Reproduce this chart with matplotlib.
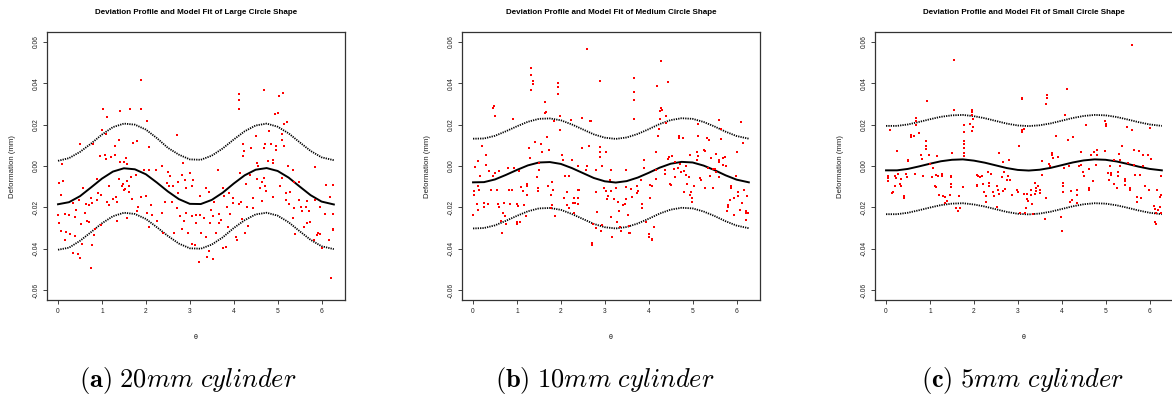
import numpy as np
import matplotlib.pyplot as plt

plt.rcParams['font.family'] = ['Liberation Sans', 'DejaVu Sans']
plt.rcParams['mathtext.fontset'] = 'cm'

titles = ["Deviation Profile and Model Fit of Large Circle Shape",
          "Deviation Profile and Model Fit of Medium Circle Shape",
          "Deviation Profile and Model Fit of Small Circle Shape"]
captions = [r"$\mathbf{(a)}$ $20\mathit{mm\ cylinder}$",
            r"$\mathbf{(b)}$ $10\mathit{mm\ cylinder}$",
            r"$\mathbf{(c)}$ $5\mathit{mm\ cylinder}$"]

# model fit and bands, read at these angles
theta_grid = [0, 0.25, 0.5, 0.75, 1.0, 1.25, 1.5, 1.75, 2.0, 2.25, 2.5, 2.75, 3.0,
              3.25, 3.5, 3.75, 4.0, 4.25, 4.5, 4.75, 5.0, 5.25, 5.5, 5.75, 6.0, 6.28]

fit_large = [-0.0185, -0.0175, -0.0146, -0.0104, -0.0061, -0.0027, -0.0011, -0.0016, -0.0040,
             -0.0080, -0.0123, -0.0160, -0.0183, -0.0184, -0.0164, -0.0129, -0.0085, -0.0045,
             -0.0018, -0.0010, -0.0024, -0.0056, -0.0099, -0.0141, -0.0172, -0.0186]
upper_large = [0.0025, 0.0038, 0.0068, 0.0108, 0.0152, 0.0188, 0.0205, 0.0200, 0.0176, 0.0135,
               0.0088, 0.0055, 0.0032, 0.0030, 0.0050, 0.0085, 0.0128, 0.0168, 0.0196, 0.0205,
               0.0190, 0.0158, 0.0115, 0.0073, 0.0042, 0.0028]
lower_large = [-0.0405, -0.0395, -0.0362, -0.0320, -0.0277, -0.0243, -0.0226, -0.0232, -0.0256,
               -0.0296, -0.0338, -0.0375, -0.0398, -0.0400, -0.0380, -0.0345, -0.0300, -0.0262,
               -0.0234, -0.0226, -0.0240, -0.0272, -0.0315, -0.0357, -0.0388, -0.0402]

fit_medium = [-0.0079, -0.0078, -0.0065, -0.0043, -0.0019, 0.0003, 0.0017, 0.0019, 0.0010,
              -0.0010, -0.0034, -0.0058, -0.0074, -0.0080, -0.0073, -0.0056, -0.0033, -0.0008,
              0.0011, 0.0020, 0.0017, 0.0002, -0.0020, -0.0045, -0.0066, -0.0079]
upper_medium = [0.0132, 0.0133, 0.0146, 0.0168, 0.0192, 0.0214, 0.0228, 0.0230, 0.0221, 0.0201,
                0.0177, 0.0153, 0.0137, 0.0131, 0.0138, 0.0155, 0.0178, 0.0203, 0.0222, 0.0231,
                0.0228, 0.0213, 0.0191, 0.0166, 0.0145, 0.0132]
lower_medium = [-0.0302, -0.0300, -0.0287, -0.0265, -0.0241, -0.0219, -0.0205, -0.0203, -0.0212,
                -0.0232, -0.0256, -0.0280, -0.0296, -0.0302, -0.0295, -0.0278, -0.0255, -0.0230,
                -0.0211, -0.0202, -0.0205, -0.0220, -0.0242, -0.0267, -0.0288, -0.0301]

fit_small = [-0.0021, -0.0021, -0.0014, -0.0002, 0.0011, 0.0023, 0.0030, 0.0032, 0.0026, 0.0016,
             0.0003, -0.0010, -0.0019, -0.0022, -0.0018, -0.0009, 0.0004, 0.0017, 0.0027, 0.0032,
             0.0030, 0.0022, 0.0010, -0.0003, -0.0014, -0.0021]
upper_small = [0.0194, 0.0194, 0.0201, 0.0213, 0.0226, 0.0238, 0.0245, 0.0247, 0.0241, 0.0231,
               0.0218, 0.0205, 0.0196, 0.0193, 0.0197, 0.0206, 0.0219, 0.0232, 0.0242, 0.0247,
               0.0245, 0.0237, 0.0225, 0.0212, 0.0201, 0.0194]
lower_small = [-0.0233, -0.0233, -0.0226, -0.0214, -0.0201, -0.0189, -0.0182, -0.0180, -0.0186,
               -0.0196, -0.0209, -0.0222, -0.0231, -0.0234, -0.0230, -0.0221, -0.0208, -0.0195,
               -0.0185, -0.0180, -0.0182, -0.0190, -0.0202, -0.0215, -0.0226, -0.0233]

# measured deviations (theta, deformation in mm)
points_large = [
    (1.90, 0.0416), (1.03, 0.0278), (1.42, 0.0265), (1.63, 0.0278), (1.88, 0.0278), (1.11, 0.0236),
    (2.03, 0.0220), (1.00, 0.0176), (1.09, 0.0157), (0.51, 0.0108), (0.79, 0.0104), (1.30, 0.0099),
    (1.39, 0.0128), (1.71, 0.0112), (1.80, 0.0123), (2.07, 0.0092), (2.70, 0.0152), (0.08, 0.0011),
    (0.95, 0.0050), (1.06, 0.0055), (1.21, 0.0042), (1.30, 0.0055), (1.09, 0.0036), (1.42, 0.0018),
    (1.51, 0.0021), (1.57, 0.0011), (1.54, 0.0039), (2.36, 0.0002), (2.85, 0.0013), (0.02, -0.0083),
    (0.12, -0.0071), (0.56, -0.0108), (0.88, -0.0063), (1.17, -0.0099), (1.49, -0.0086),
    (1.56, -0.0074), (1.61, -0.0095), (1.53, -0.0112), (1.45, -0.0095), (1.38, -0.0063),
    (1.67, -0.0053), (1.77, -0.0044), (1.96, -0.0018), (2.08, -0.0018), (2.22, -0.0018),
    (2.51, -0.0031), (2.56, -0.0050), (2.47, -0.0083), (2.52, -0.0099), (2.62, -0.0099),
    (2.74, -0.0078), (2.73, -0.0131), (2.83, -0.0042), (2.89, -0.0066), (2.92, -0.0107),
    (3.00, -0.0034), (3.08, -0.0070), (3.05, -0.0099), (0.06, -0.0142), (0.35, -0.0180),
    (0.48, -0.0163), (0.63, -0.0183), (0.71, -0.0191), (0.78, -0.0181), (0.76, -0.0154),
    (0.92, -0.0131), (0.89, -0.0163), (0.98, -0.0142), (1.11, -0.0172), (1.15, -0.0188),
    (1.26, -0.0160), (1.31, -0.0150), (1.35, -0.0176), (1.50, -0.0118), (1.61, -0.0128),
    (1.68, -0.0160), (1.81, -0.0196), (1.89, -0.0150), (2.01, -0.0147), (2.11, -0.0189),
    (2.15, -0.0236), (2.25, -0.0264), (2.36, -0.0228), (2.44, -0.0176), (2.59, -0.0175),
    (2.70, -0.0204), (2.77, -0.0244), (2.87, -0.0264), (2.92, -0.0228), (3.06, -0.0244),
    (0.00, -0.0235), (0.16, -0.0231), (0.41, -0.0215), (0.25, -0.0236), (0.38, -0.0249),
    (0.52, -0.0282), (0.61, -0.0225), (0.65, -0.0264), (0.70, -0.0273), (0.85, -0.0306),
    (0.97, -0.0283), (1.35, -0.0264), (1.57, -0.0252), (1.80, -0.0220), (2.02, -0.0225),
    (0.06, -0.0312), (0.18, -0.0319), (0.16, -0.0358), (0.27, -0.0330), (0.39, -0.0337),
    (0.54, -0.0377), (0.78, -0.0382), (0.81, -0.0333), (0.33, -0.0422), (0.45, -0.0427),
    (0.49, -0.0445), (2.08, -0.0293), (2.39, -0.0322), (2.65, -0.0322), (2.83, -0.0306),
    (2.96, -0.0322), (3.05, -0.0379), (0.02, -0.0275), (0.76, -0.0492),
    (4.13, 0.0348), (4.13, 0.0319), (4.13, 0.0278), (4.69, 0.0366), (5.04, 0.0338), (5.12, 0.0351),
    (4.95, 0.0251), (5.01, 0.0254), (4.80, 0.0167), (5.11, 0.0157), (5.14, 0.0201), (5.21, 0.0212),
    (5.11, 0.0128), (5.15, 0.0095), (4.21, 0.0104), (4.23, 0.0074), (4.22, 0.0050), (4.40, 0.0089),
    (4.70, 0.0087), (4.84, 0.0108), (4.97, 0.0099), (4.97, 0.0076), (4.50, 0.0147), (4.72, 0.0108),
    (3.65, -0.0018), (4.52, 0.0015), (4.56, -0.0002), (4.79, 0.0023), (4.90, 0.0028),
    (4.89, 0.0015), (5.24, 0.0002), (5.35, -0.0018), (5.86, -0.0005), (4.15, -0.0034),
    (4.38, -0.0042), (4.29, -0.0086), (4.53, -0.0061), (4.64, -0.0079), (4.59, -0.0107),
    (4.74, -0.0123), (4.72, -0.0099), (4.69, -0.0058), (5.06, -0.0095), (5.11, -0.0060),
    (5.38, -0.0078), (5.48, -0.0076), (6.11, -0.0091), (6.27, -0.0091), (3.36, -0.0108),
    (3.23, -0.0147), (3.43, -0.0125), (3.54, -0.0172), (3.48, -0.0215), (3.76, -0.0107),
    (3.77, -0.0147), (3.90, -0.0131), (3.99, -0.0155), (3.98, -0.0180), (3.85, -0.0196),
    (4.11, -0.0183), (4.17, -0.0176), (4.30, -0.0196), (4.43, -0.0201), (4.45, -0.0157),
    (4.64, -0.0167), (4.89, -0.0150), (5.19, -0.0131), (5.28, -0.0128), (5.19, -0.0163),
    (5.27, -0.0183), (5.38, -0.0204), (5.48, -0.0163), (5.53, -0.0196), (5.64, -0.0196),
    (5.68, -0.0167), (5.86, -0.0163), (5.97, -0.0196), (6.08, -0.0233), (6.20, -0.0150),
    (6.27, -0.0231), (3.24, -0.0236), (3.32, -0.0252), (3.47, -0.0277), (3.52, -0.0244),
    (3.67, -0.0231), (3.67, -0.0277), (3.71, -0.0261), (3.92, -0.0231), (3.86, -0.0296),
    (3.14, -0.0236), (3.14, -0.0277), (3.26, -0.0325), (3.38, -0.0341), (3.12, -0.0382),
    (3.43, -0.0409), (3.39, -0.0439), (3.52, -0.0450), (3.60, -0.0325), (3.76, -0.0398),
    (3.83, -0.0390), (4.06, -0.0341), (4.08, -0.0358), (4.26, -0.0322), (4.32, -0.0288),
    (4.20, -0.0257), (5.40, -0.0330), (5.74, -0.0269), (5.91, -0.0325), (5.96, -0.0330),
    (5.82, -0.0358), (6.01, -0.0398), (6.17, -0.0358), (6.25, -0.0306), (6.27, -0.0310),
    (5.67, -0.0277), (5.56, -0.0220), (5.60, -0.0293), (5.35, -0.0252), (5.90, -0.0333),
    (5.71, -0.0220), (6.21, -0.0544), (3.20, -0.0463),
]

points_medium = [
    (2.59, 0.0565), (1.32, 0.0472), (1.32, 0.0439), (1.36, 0.0411), (1.37, 0.0398), (1.32, 0.0366),
    (1.93, 0.0400), (1.93, 0.0383), (1.93, 0.0348), (2.90, 0.0409), (0.48, 0.0288), (0.45, 0.0282),
    (0.50, 0.0244), (1.64, 0.0309), (1.66, 0.0261), (1.63, 0.0254), (1.97, 0.0241), (0.91, 0.0225),
    (2.23, 0.0222), (2.48, 0.0230), (2.66, 0.0217), (2.69, 0.0217), (1.99, 0.0176), (1.85, 0.0220),
    (0.21, 0.0099), (0.30, 0.0055), (0.11, 0.0023), (0.05, -0.0003), (0.30, 0.0005), (0.59, -0.0024),
    (0.51, -0.0034), (0.80, -0.0008), (0.94, -0.0008), (1.04, -0.0026), (1.41, 0.0115),
    (1.54, 0.0104), (1.28, 0.0086), (1.72, 0.0076), (1.56, 0.0066), (1.30, 0.0037), (1.51, 0.0013),
    (1.51, -0.0018), (1.46, -0.0053), (1.24, -0.0099), (1.23, -0.0139), (1.68, 0.0138),
    (2.03, 0.0055), (2.04, 0.0028), (2.25, 0.0031), (2.40, -0.0002), (2.47, 0.0086), (2.63, 0.0095),
    (2.90, 0.0091), (2.89, 0.0070), (2.89, 0.0044), (2.93, 0.0002), (2.81, -0.0018),
    (2.59, -0.0002), (2.57, -0.0018), (3.02, 0.0066), (0.03, -0.0123), (0.03, -0.0139),
    (0.14, -0.0118), (0.16, -0.0050), (0.11, -0.0099), (0.36, -0.0026), (0.42, -0.0115),
    (0.54, -0.0115), (0.45, -0.0050), (0.82, -0.0118), (0.88, -0.0118), (1.10, -0.0102),
    (1.13, -0.0123), (1.22, -0.0087), (1.47, -0.0104), (1.49, -0.0123), (1.70, -0.0099),
    (1.79, -0.0076), (1.77, -0.0139), (1.82, -0.0115), (2.09, -0.0050), (2.18, -0.0047),
    (2.15, -0.0128), (2.08, -0.0155), (2.31, -0.0155), (2.39, -0.0155), (2.38, -0.0115),
    (2.42, -0.0115), (2.32, -0.0180), (2.81, -0.0128), (2.98, -0.0107), (3.02, -0.0123),
    (3.08, -0.0144), (3.05, -0.0160), (0.08, -0.0183), (0.12, -0.0212), (0.25, -0.0180),
    (0.25, -0.0196), (0.34, -0.0184), (0.00, -0.0239), (0.57, -0.0183), (0.59, -0.0199),
    (0.68, -0.0225), (0.70, -0.0180), (0.84, -0.0183), (0.99, -0.0183), (1.03, -0.0193),
    (1.16, -0.0191), (1.21, -0.0244), (0.99, -0.0273), (1.07, -0.0269), (0.99, -0.0280),
    (0.73, -0.0244), (0.64, -0.0265), (0.74, -0.0282), (0.67, -0.0322), (1.77, -0.0204),
    (1.80, -0.0191), (1.87, -0.0244), (2.14, -0.0188), (2.18, -0.0204), (2.28, -0.0180),
    (2.29, -0.0225), (2.38, -0.0184), (2.71, -0.0374), (2.71, -0.0382), (2.74, -0.0280),
    (2.83, -0.0223), (2.80, -0.0301), (2.93, -0.0285), (2.92, -0.0314), (3.16, -0.0342),
    (4.29, 0.0508), (3.67, 0.0424), (3.67, 0.0358), (3.67, 0.0319), (3.67, 0.0225), (4.20, 0.0387),
    (4.43, 0.0406), (4.27, 0.0282), (4.26, 0.0265), (4.31, 0.0273), (4.40, 0.0244), (4.40, 0.0206),
    (4.23, 0.0180), (4.22, 0.0144), (4.26, 0.0225), (5.61, 0.0222), (6.11, 0.0212), (5.65, 0.0180),
    (5.13, 0.0204), (5.13, 0.0147), (4.70, 0.0147), (4.77, 0.0134), (4.69, 0.0134), (5.33, 0.0136),
    (5.37, 0.0125), (5.65, 0.0131), (6.15, 0.0112), (6.01, 0.0066), (4.17, 0.0066), (3.90, 0.0031),
    (3.90, -0.0010), (3.49, -0.0018), (3.15, -0.0021), (4.45, 0.0036), (4.47, 0.0044),
    (4.54, 0.0050), (4.61, 0.0021), (4.72, 0.0008), (4.93, 0.0055), (5.10, 0.0066), (5.13, 0.0047),
    (5.11, 0.0028), (5.25, 0.0079), (5.29, 0.0071), (5.42, 0.0039), (5.54, 0.0060), (5.59, 0.0028),
    (5.61, 0.0021), (5.69, 0.0039), (5.74, 0.0044), (5.70, 0.0003), (5.77, -0.0002),
    (5.46, -0.0013), (5.50, -0.0013), (5.35, -0.0008), (4.84, 0.0002), (4.74, -0.0031),
    (4.66, -0.0010), (4.57, -0.0015), (4.36, -0.0018), (4.17, -0.0018), (4.16, -0.0063),
    (4.08, -0.0095), (4.36, -0.0037), (4.59, -0.0055), (4.81, -0.0023), (4.84, -0.0042),
    (4.87, -0.0086), (4.91, -0.0053), (4.49, -0.0086), (4.50, -0.0091), (5.03, -0.0099),
    (4.97, -0.0128), (4.99, -0.0154), (4.99, -0.0173), (4.94, -0.0141), (4.81, -0.0128),
    (5.17, -0.0058), (5.18, -0.0066), (5.29, -0.0105), (5.40, -0.0047), (5.47, -0.0105),
    (5.53, -0.0031), (5.61, -0.0053), (5.88, -0.0099), (5.88, -0.0105), (5.99, -0.0047),
    (6.04, -0.0126), (6.03, -0.0147), (5.95, -0.0154), (6.24, -0.0144), (6.18, -0.0115),
    (6.12, -0.0178), (5.80, -0.0188), (5.80, -0.0196), (5.84, -0.0163), (5.79, -0.0220),
    (5.95, -0.0236), (6.09, -0.0215), (6.21, -0.0220), (6.21, -0.0261), (6.21, -0.0225),
    (6.27, -0.0228), (3.11, -0.0066), (3.25, -0.0104), (3.15, -0.0123), (3.49, -0.0102),
    (3.60, -0.0112), (3.74, -0.0095), (3.83, -0.0070), (3.75, -0.0123), (3.73, -0.0131),
    (4.04, -0.0094), (3.21, -0.0160), (3.30, -0.0176), (3.42, -0.0191), (3.48, -0.0159),
    (3.63, -0.0150), (3.33, -0.0220), (3.47, -0.0184), (3.85, -0.0183), (3.85, -0.0204),
    (4.04, -0.0155), (3.15, -0.0249), (3.53, -0.0239), (3.35, -0.0296), (3.38, -0.0312),
    (3.55, -0.0288), (3.56, -0.0322), (3.94, -0.0269), (4.11, -0.0293), (4.00, -0.0328),
    (4.00, -0.0341), (4.08, -0.0353), (4.08, -0.0358), (3.27, -0.0269), (3.57, -0.0322),
]

points_small = [
    (1.54, 0.0513), (0.94, 0.0314), (1.55, 0.0270), (1.96, 0.0273), (1.96, 0.0261), (1.96, 0.0248),
    (1.98, 0.0228), (0.68, 0.0231), (0.68, 0.0217), (0.68, 0.0199), (0.08, 0.0176), (0.76, 0.0160),
    (0.56, 0.0152), (0.56, 0.0141), (0.63, 0.0144), (1.78, 0.0196), (1.78, 0.0163), (1.91, 0.0201),
    (1.98, 0.0189), (1.96, 0.0168), (1.78, 0.0120), (1.78, 0.0104), (1.78, 0.0087), (1.78, 0.0063),
    (1.78, 0.0050), (0.90, 0.0120), (0.90, 0.0095), (0.90, 0.0083), (0.25, 0.0071), (0.79, 0.0055),
    (0.81, 0.0034), (0.98, 0.0055), (1.15, 0.0047), (0.51, 0.0031), (0.51, 0.0023), (1.51, 0.0063),
    (1.00, 0.0011), (1.08, -0.0010), (0.65, -0.0037), (0.05, -0.0047), (0.05, -0.0060),
    (0.05, -0.0074), (0.20, -0.0050), (0.22, -0.0058), (0.28, -0.0037), (0.34, -0.0063),
    (0.31, -0.0086), (0.35, -0.0099), (0.21, -0.0099), (0.46, -0.0037), (0.47, -0.0053),
    (0.84, -0.0050), (1.05, -0.0053), (1.14, -0.0042), (1.19, -0.0047), (1.27, -0.0037),
    (1.27, -0.0050), (1.48, -0.0047), (1.48, -0.0053), (1.48, -0.0086), (1.48, -0.0102),
    (1.11, -0.0099), (1.14, -0.0102), (1.75, -0.0102), (1.21, -0.0139), (1.30, -0.0144),
    (1.35, -0.0150), (1.38, -0.0168), (1.35, -0.0180), (1.45, -0.0142), (1.66, -0.0147),
    (1.60, -0.0202), (1.63, -0.0218), (1.69, -0.0204), (0.14, -0.0131), (0.16, -0.0126),
    (0.40, -0.0147), (0.40, -0.0154), (2.06, -0.0042), (2.09, -0.0050), (2.13, -0.0053),
    (2.18, -0.0047), (2.06, -0.0091), (2.08, -0.0095), (2.21, -0.0086), (2.22, -0.0126),
    (2.28, -0.0144), (2.34, -0.0083), (2.34, -0.0099), (2.40, -0.0037), (2.43, -0.0128),
    (2.45, -0.0144), (2.52, -0.0099), (2.55, -0.0118), (2.58, -0.0134), (2.64, -0.0052),
    (2.69, -0.0031), (2.76, -0.0066), (2.77, -0.0050), (2.66, -0.0123), (2.70, -0.0112),
    (2.82, -0.0066), (2.99, -0.0115), (3.00, -0.0128), (3.06, -0.0228), (3.16, -0.0225),
    (3.15, 0.0180), (3.09, 0.0322), (3.02, 0.0099), (2.58, 0.0063), (2.67, 0.0018), (2.81, 0.0028),
    (2.33, -0.0029), (2.53, -0.0196), (2.28, -0.0172), (2.86, -0.0139),
    (5.59, 0.0584), (3.67, 0.0341), (3.66, 0.0330), (3.65, 0.0298), (4.11, 0.0371), (3.09, 0.0327),
    (4.08, 0.0249), (4.99, 0.0217), (5.00, 0.0201), (5.01, 0.0193), (5.48, 0.0189), (5.61, 0.0176),
    (6.01, 0.0183), (4.56, 0.0196), (3.88, 0.0144), (4.15, 0.0125), (4.26, 0.0141), (5.37, 0.0099),
    (3.09, 0.0176), (3.09, 0.0163), (3.79, 0.0063), (3.77, 0.0055), (3.81, 0.0039), (3.92, 0.0044),
    (3.56, 0.0023), (3.70, 0.0010), (4.44, 0.0070), (4.67, 0.0055), (4.73, 0.0068), (4.80, 0.0076),
    (4.80, 0.0055), (4.99, 0.0071), (5.30, 0.0060), (5.33, 0.0031), (5.20, 0.0031), (5.64, 0.0079),
    (5.75, 0.0074), (5.86, 0.0055), (5.96, 0.0055), (6.04, 0.0036), (3.73, 0.0002), (4.05, -0.0010),
    (4.16, -0.0002), (4.39, 0.0002), (4.43, 0.0006), (4.62, -0.0015), (4.79, 0.0006),
    (5.09, -0.0002), (5.33, -0.0002), (5.52, 0.0015), (5.65, 0.0005), (5.86, -0.0002),
    (6.27, -0.0050), (3.54, -0.0042), (4.04, -0.0083), (4.04, -0.0099), (4.03, -0.0128),
    (4.49, -0.0031), (4.50, -0.0047), (4.71, -0.0071), (4.63, -0.0107), (4.63, -0.0115),
    (4.22, -0.0123), (4.35, -0.0115), (4.35, -0.0139), (5.05, -0.0034), (5.12, -0.0034),
    (5.12, -0.0042), (5.29, -0.0031), (5.28, -0.0047), (5.07, -0.0066), (5.18, -0.0086),
    (5.26, -0.0107), (5.43, -0.0063), (5.43, -0.0071), (5.44, -0.0094), (5.56, -0.0104),
    (5.56, -0.0115), (5.67, -0.0042), (5.78, -0.0042), (5.90, -0.0099), (5.98, -0.0115),
    (6.18, -0.0115), (6.26, -0.0139), (6.23, -0.0150), (3.39, -0.0083), (3.47, -0.0095),
    (3.42, -0.0104), (3.42, -0.0123), (3.40, -0.0134), (3.51, -0.0118), (3.51, -0.0131),
    (3.30, -0.0118), (3.30, -0.0139), (3.15, -0.0136), (3.21, -0.0134), (3.22, -0.0160),
    (3.24, -0.0167), (3.33, -0.0183), (3.19, -0.0204), (3.34, -0.0231), (3.65, -0.0157),
    (4.20, -0.0172), (4.24, -0.0163), (4.34, -0.0180), (5.71, -0.0150), (5.71, -0.0176),
    (5.80, -0.0155), (6.10, -0.0193), (6.13, -0.0207), (6.14, -0.0228), (6.23, -0.0196),
    (6.25, -0.0228), (6.12, -0.0273), (6.14, -0.0282), (3.98, -0.0249), (4.00, -0.0314),
    (3.61, -0.0257), (6.20, -0.0215),
]

panels = [
    (points_large, fit_large, upper_large, lower_large),
    (points_medium, fit_medium, upper_medium, lower_medium),
    (points_small, fit_small, upper_small, lower_small),
]

W, H = 1172, 396
fig = plt.figure(figsize=(W / 100, H / 100), dpi=100)
lefts = [47, 462, 875]
cap_x = [188, 605, 1023]

for i, (pts, fit, up, lo) in enumerate(panels):
    ax = fig.add_axes([lefts[i] / W, 96 / H, 298 / W, 268 / H])
    th, dev = np.array(pts).T
    ax.plot(theta_grid, up, color='black', lw=1.3, ls=(0, (0.7, 0.6)))
    ax.plot(theta_grid, lo, color='black', lw=1.3, ls=(0, (0.7, 0.6)))
    ax.plot(theta_grid, fit, color='black', lw=1.4)
    ax.plot(th, dev, ls='none', marker='s', ms=1.8, mew=0, color='#ff0000')
    ax.set_xlim(-0.251, 6.534)
    ax.set_ylim(-0.0648, 0.0648)
    ax.set_xticks(range(7))
    ax.set_yticks([-0.06, -0.04, -0.02, 0.0, 0.02, 0.04, 0.06])
    ax.set_yticklabels(['-0.06', '-0.04', '-0.02', '0.00', '0.02', '0.04', '0.06'],
                       rotation=90, va='center')
    ax.tick_params(labelsize=4.8, length=3, width=0.6, colors='#222222', pad=2.5)
    for s in ax.spines.values():
        s.set_linewidth(0.9)
        s.set_color('#333333')
    ax.set_title(titles[i], fontsize=5.8, fontweight='bold', pad=13)
    ax.set_ylabel("Deformation (mm)", fontsize=5.6, labelpad=12, color='#222222')
    ax.set_xlabel("θ", fontsize=5, labelpad=14)
    fig.text(cap_x[i] / W, 1 - 380 / H, captions[i], fontsize=19, ha='center', va='center')

fig.savefig("out.png", dpi=100)
